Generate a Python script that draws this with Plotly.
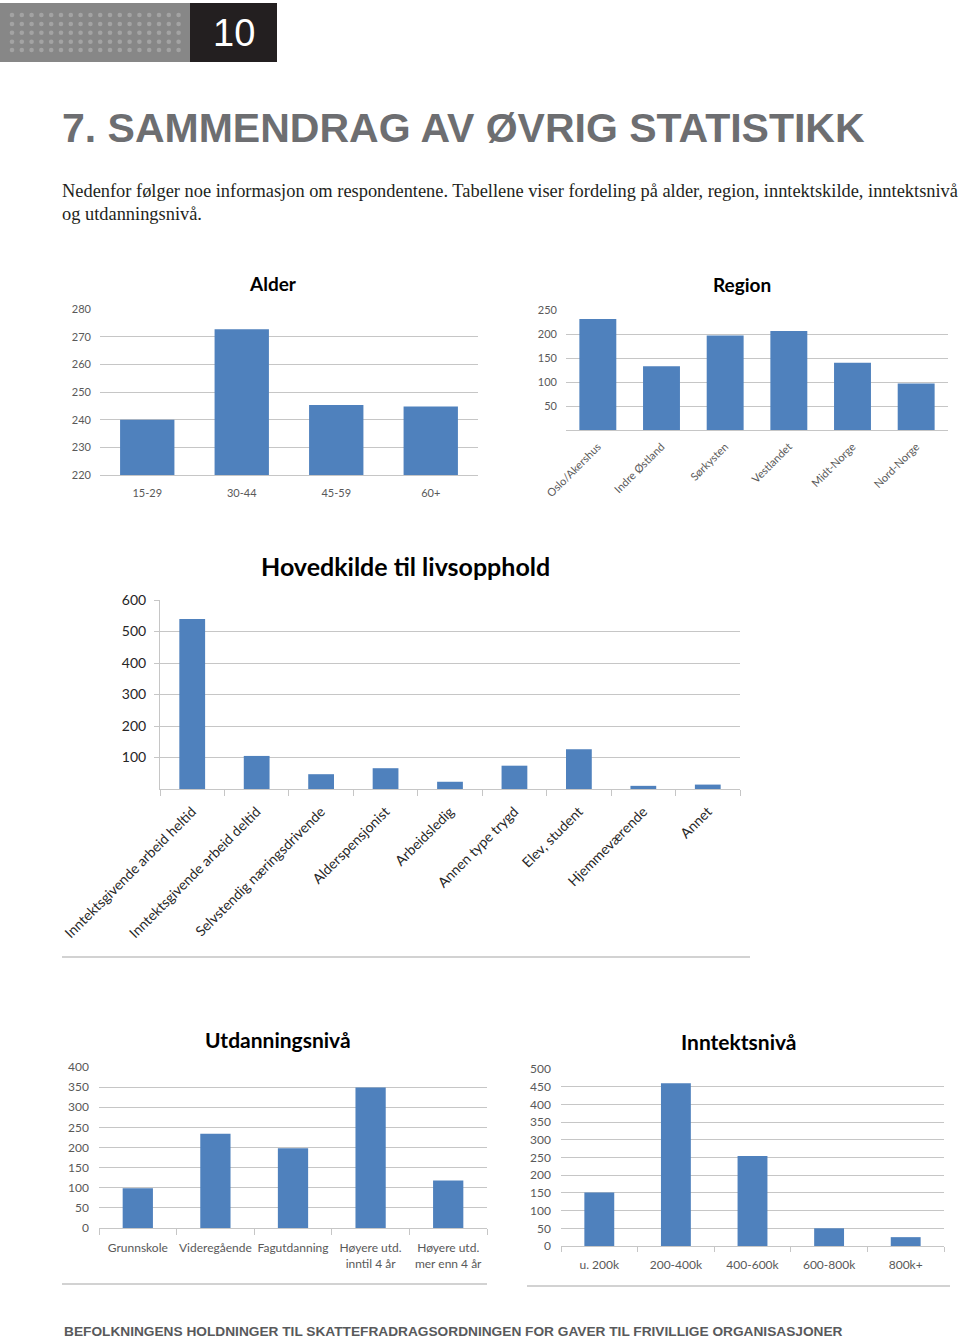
import plotly.graph_objects as go

W, H = 960, 1338

# ---------------- data ----------------
age_cats = ["15-29", "30-44", "45-59", "60+"]
age_vals = [240, 272.7, 245.3, 244.8]

region_cats = ["Oslo/Akershus", "Indre Østland", "Sørkysten", "Vestlandet", "Midt-Norge", "Nord-Norge"]
region_vals = [231, 133, 197, 206, 140, 97]

source_cats = ["Inntektsgivende arbeid heltid", "Inntektsgivende arbeid deltid",
               "Selvstendig næringsdrivende", "Alderspensjonist", "Arbeidsledig",
               "Annen type trygd", "Elev, student", "Hjemmeværende", "Annet"]
source_vals = [540, 105, 47, 66, 23, 74, 126, 10, 14]

edu_cats = ["Grunnskole", "Videregående", "Fagutdanning",
            "Høyere utd.<br>inntil 4 år", "Høyere utd.<br>mer enn 4 år"]
edu_vals = [99, 234, 198, 349, 118]

inc_cats = ["u. 200k", "200-400k", "400-600k", "600-800k", "800k+"]
inc_vals = [151, 460, 254, 50, 25]

# ---------------- style ----------------
BLUE = "#4f81bd"
GRID = "#c6c6c6"
TICK = "#595959"
FONT = "Lato"


def fx(x):
    return x / W


def fy(y):
    return 1 - y / H


fig = go.Figure()

fig.add_trace(go.Bar(x=age_cats, y=age_vals, width=0.575, marker_color=BLUE,
                     xaxis="x", yaxis="y"))
fig.add_trace(go.Bar(x=region_cats, y=region_vals, width=0.58, marker_color=BLUE,
                     xaxis="x2", yaxis="y2"))
fig.add_trace(go.Bar(x=source_cats, y=source_vals, width=0.4, marker_color=BLUE,
                     xaxis="x3", yaxis="y3"))
fig.add_trace(go.Bar(x=edu_cats, y=edu_vals, width=0.39, marker_color=BLUE,
                     xaxis="x4", yaxis="y4"))
fig.add_trace(go.Bar(x=inc_cats, y=inc_vals, width=0.39, marker_color=BLUE,
                     xaxis="x5", yaxis="y5"))


def xax(x0, x1, anchor, size, **kw):
    d = dict(domain=[fx(x0), fx(x1)], anchor=anchor, type="category", automargin=False,
             showgrid=False, zeroline=False, showline=True, linecolor=GRID, linewidth=1,
             tickfont=dict(family=FONT, size=size, color=TICK), fixedrange=True, tickangle=0)
    d.update(kw)
    return d


def yax(y0, y1, anchor, rng, dtick, size, **kw):
    d = dict(domain=[fy(y1), fy(y0)], anchor=anchor, range=rng, dtick=dtick, automargin=False,
             showgrid=True, gridcolor=GRID, gridwidth=1, zeroline=False, showline=False,
             tickfont=dict(family=FONT, size=size, color=TICK), ticks="",
             ticklabelstandoff=6, fixedrange=True)
    d.update(kw)
    return d


layout = dict(
    template="none",
    width=W, height=H, margin=dict(l=0, r=0, t=0, b=0, autoexpand=False),
    paper_bgcolor="white", plot_bgcolor="white", showlegend=False,
    xaxis=xax(100, 478, "y", 11, ticks="", ticklabelstandoff=8),
    yaxis=yax(309, 475, "x", [220, 280], 10, 11, ticklabelstandoff=8),
    xaxis2=xax(566, 948, "y2", 11, ticks="", tickangle=-45, ticklabelstandoff=5),
    yaxis2=yax(310, 430, "x2", [0, 250], 50, 11, tickvals=[50, 100, 150, 200, 250],
               ticklabelstandoff=8),
    xaxis3=xax(160, 740, "y3", 14, ticks="outside", tickson="boundaries", ticklen=6,
               tickcolor=GRID, tickangle=-45, ticklabelstandoff=8,
               tickfont=dict(family=FONT, size=14, color="#262626")),
    yaxis3=yax(600, 789, "x3", [0, 600], 100, 14, tickvals=[100, 200, 300, 400, 500, 600],
               showline=True, linecolor=GRID, ticks="outside", ticklen=5, tickcolor=GRID,
               ticklabelstandoff=5,
               tickfont=dict(family=FONT, size=14, color="#262626")),
    xaxis4=xax(99, 487, "y4", 12, ticks="outside", tickson="boundaries", ticklen=6,
               tickcolor=GRID, ticklabelstandoff=9),
    yaxis4=yax(1067, 1228, "x4", [0, 400], 50, 12, ticklabelstandoff=9),
    xaxis5=xax(561, 944, "y5", 12, ticks="outside", tickson="boundaries", ticklen=5,
               tickcolor=GRID, ticklabelstandoff=8),
    yaxis5=yax(1069, 1246, "x5", [0, 500], 50, 12, ticklabelstandoff=9),
)
fig.update_layout(**layout)

shapes = []
# header bar
shapes.append(dict(type="rect", xref="paper", yref="paper", x0=fx(0), x1=fx(190), y0=fy(62), y1=fy(3),
                   fillcolor="#878787", line=dict(width=0), layer="below"))
shapes.append(dict(type="rect", xref="paper", yref="paper", x0=fx(190), x1=fx(277), y0=fy(62), y1=fy(3),
                   fillcolor="#231f20", line=dict(width=0), layer="below"))
rows = [15, 24, 32.7, 41.7, 50]
for ry in rows:
    for k in range(18):
        cx = 12 + 9.8 * k
        r = 2.3
        shapes.append(dict(type="circle", xref="paper", yref="paper",
                           x0=fx(cx - r), x1=fx(cx + r), y0=fy(ry + r), y1=fy(ry - r),
                           fillcolor="#a3a3a3", line=dict(width=0), layer="below"))
# separator lines
for (x0, x1, y) in [(62, 750, 957), (62, 487, 1284), (527, 950, 1286)]:
    shapes.append(dict(type="line", xref="paper", yref="paper", x0=fx(x0), x1=fx(x1),
                       y0=fy(y), y1=fy(y), line=dict(color="#a6a6a6", width=1.2)))
fig.update_layout(shapes=shapes)

ann = []


def text(x, y, s, size, family, color, xanchor="center", weight="normal"):
    ann.append(dict(x=fx(x), y=fy(y), xref="paper", yref="paper", text=s, showarrow=False,
                    xanchor=xanchor, yanchor="middle",
                    font=dict(family=family, size=size, color=color, weight=weight)))


text(234, 33, "10", 38, "Liberation Sans", "white")
text(60, 128, "7. SAMMENDRAG AV ØVRIG STATISTIKK", 41, "Liberation Sans", "#6d6e71",
     xanchor="left", weight="bold")
text(60, 191, "Nedenfor følger noe informasjon om respondentene. Tabellene viser fordeling på alder, "
     "region, inntektskilde, inntektsnivå", 18.4, "Liberation Serif", "#231f20", xanchor="left")
text(60, 214, "og utdanningsnivå.", 18.4, "Liberation Serif", "#231f20", xanchor="left")

text(273, 283, "Alder", 19, FONT, "#000000", weight="bold")
text(742, 284, "Region", 19, FONT, "#000000", weight="bold")
text(405, 566, "Hovedkilde til livsopphold", 25, FONT, "#000000", weight="bold")
text(278, 1039, "Utdanningsnivå", 21, FONT, "#000000", weight="bold")
text(738, 1041, "Inntektsnivå", 21, FONT, "#000000", weight="bold")

text(62, 1331, "BEFOLKNINGENS HOLDNINGER TIL SKATTEFRADRAGSORDNINGEN FOR GAVER TIL FRIVILLIGE ORGANISASJONER",
     13.7, "Liberation Sans", "#58595b", xanchor="left", weight="bold")

fig.update_layout(annotations=ann)

fig.write_html("out.html", config={"displayModeBar": False},
               post_script="document.body.style.margin='0px';document.body.style.overflow='hidden';")
